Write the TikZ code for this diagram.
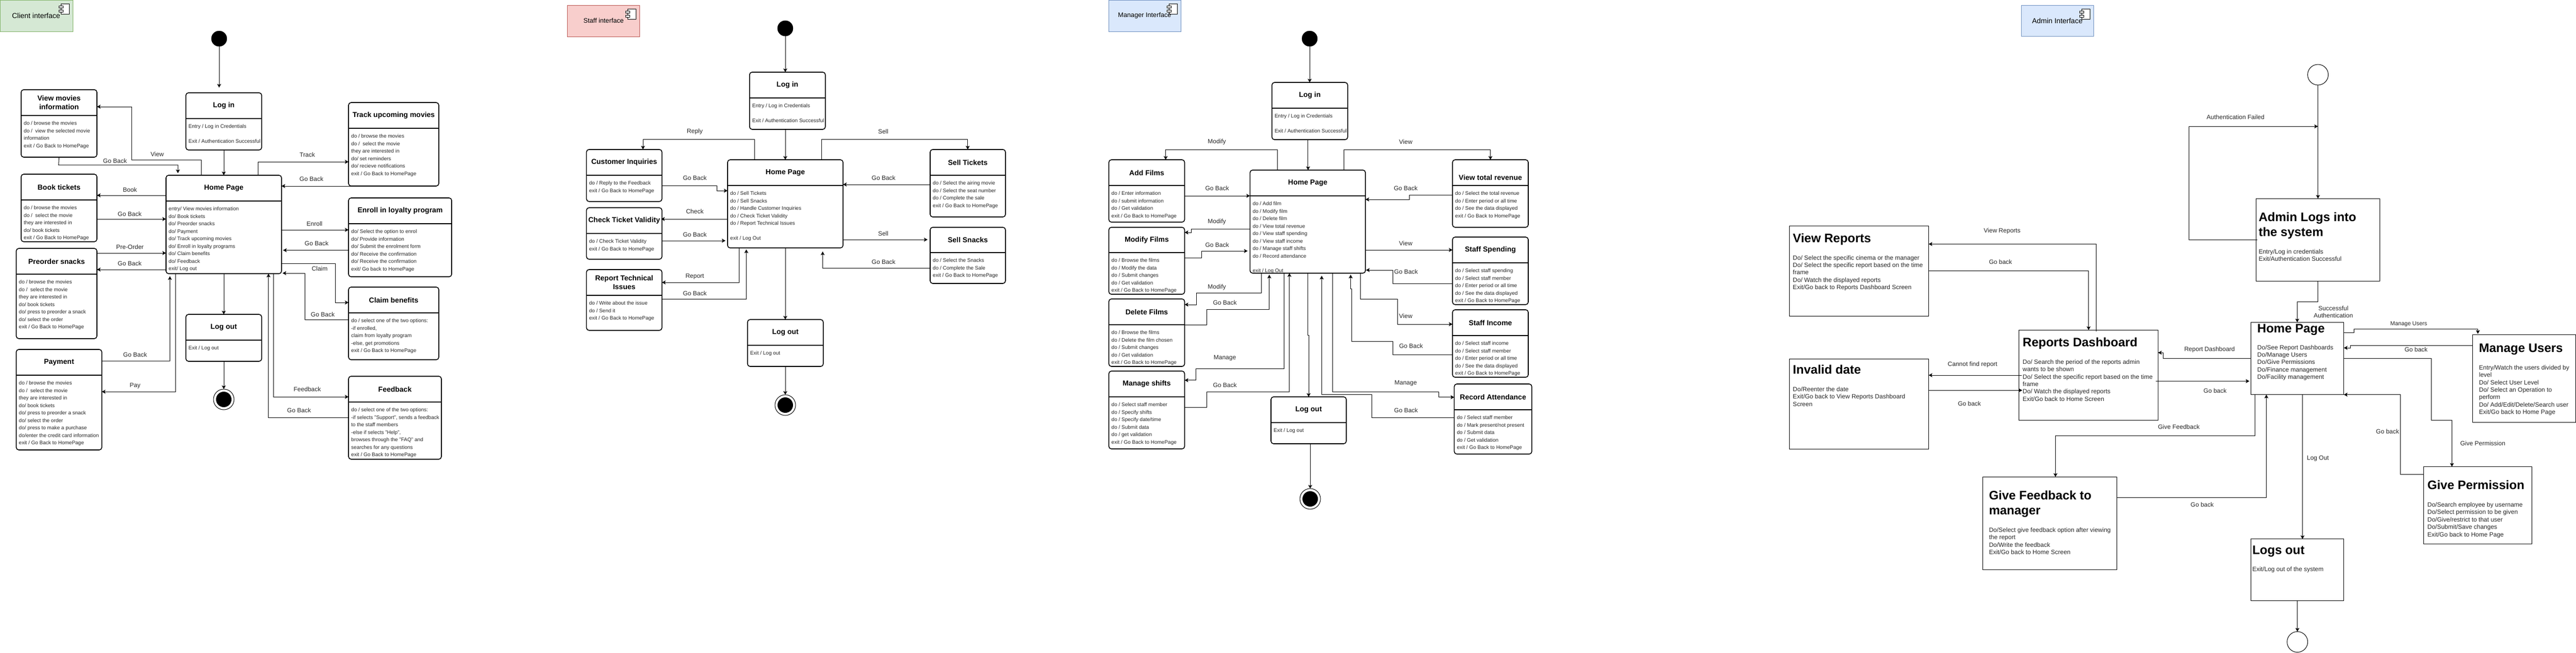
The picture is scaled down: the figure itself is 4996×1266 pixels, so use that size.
\documentclass[tikz,border=0pt]{standalone}
\usepackage{fontspec}
\setmainfont{Liberation Sans}
\usetikzlibrary{arrows.meta,calc}
\definecolor{cgfill}{HTML}{D5E8D4}\definecolor{cgline}{HTML}{82B366}
\definecolor{crfill}{HTML}{F8CECC}\definecolor{crline}{HTML}{B85450}
\definecolor{cbfill}{HTML}{DAE8FC}\definecolor{cbline}{HTML}{6C8EBF}
\tikzset{
  statebody/.style={draw=black,line width=1.6pt,rounded corners=5pt,inner sep=0pt,outer sep=0pt,fill=white},
  hdrline/.style={line width=1.5pt,black},
  statetitle/.style={font=\fontsize{14}{17}\selectfont\bfseries,align=center,inner sep=0pt},
  statetext/.style={font=\fontsize{10}{14.45}\selectfont,align=left,inner sep=0pt,anchor=north west,text=black!85},
  lbl/.style={font=\fontsize{12}{14.4}\selectfont,align=center,inner sep=0pt,text=black!85},
  lblsm/.style={font=\fontsize{11}{14}\selectfont,align=center,inner sep=0pt,text=black!85},
  conn/.style={line width=1pt,black,-{Stealth[length=7pt,width=7.5pt,inset=1.5pt]}},
  iface/.style={line width=1pt,inner sep=0pt,outer sep=0pt,anchor=north west},
  ifacetext/.style={font=\fontsize{14}{16}\selectfont,inner sep=0pt},
  ifacesmall/.style={font=\fontsize{12.7}{15}\selectfont,inner sep=0pt},
  startdot/.style={circle,fill=black,draw=black,minimum size=30pt,inner sep=0pt,outer sep=0pt},
  endouter/.style={circle,draw=black,line width=1pt,fill=white,minimum size=40pt,inner sep=0pt,outer sep=0pt},
  endinner/.style={circle,fill=black,minimum size=30pt,inner sep=0pt},
  opencirc/.style={circle,draw=black,line width=1pt,fill=white,minimum size=40pt,inner sep=0pt,outer sep=0pt},
  plainbox/.style={draw=black,line width=1pt,inner sep=0pt,outer sep=0pt,fill=white,anchor=north west},
  bigtitle/.style={font=\fontsize{24}{29}\selectfont\bfseries,align=left,inner sep=0pt,anchor=north west},
  bigtext/.style={font=\fontsize{12}{14.4}\selectfont,align=left,inner sep=0pt,anchor=north west,text=black!85},
  compmain/.style={draw=black,line width=.9pt,fill=white},
}
\newcounter{labc}
\newcommand\lab[3]{\stepcounter{labc}\node[lbl] (lab\arabic{labc}) at (#1,#2) {#3};}
\newcommand\labsm[3]{\stepcounter{labc}\node[lblsm] (lab\arabic{labc}) at (#1,#2) {#3};}
% [title dy]{name}{x1}{y1}{x2}{y2}{yh}{title}{body}
\newcommand\statebox[9][0]{%
  \pgfmathsetmacro\bw{#5-#3}\pgfmathsetmacro\bh{#6-#4}%
  \node[statebody,minimum width=\bw pt,minimum height=\bh pt,anchor=north west] (#2) at (#3,#4) {};
  \draw[hdrline] (#2.west |- 0,#7) -- (#2.east |- 0,#7);
  \node[statetitle] (#2t) at ({(#3+#5)/2},{(#4+#7)/2+#1}) {#8};
  \node[statetext] (#2b) at ({#3+5},{#7+10.7}) {\rule{0pt}{8pt}#9};
}
\newcommand\plainrect[5]{%
  \pgfmathsetmacro\bw{#4-#2}\pgfmathsetmacro\bh{#5-#3}%
  \node[plainbox,minimum width=\bw pt,minimum height=\bh pt] (#1) at (#2,#3) {};}
% {name}{x}{first line centre y}{text}
\newcommand\ttl[4]{\node[bigtitle] (#1) at (#2,{#3-9.4}) {\rule{0pt}{18pt}#4};}
\newcommand\bdy[4]{\node[bigtext] (#1) at (#2,{#3-4.7}) {\rule{0pt}{9pt}#4};}
% {x0}{y0} top left of the component icon
\newcommand\compicon[2]{%
  \draw[compmain] (#1,#2) rectangle ++(16,20);
  \draw[compmain] ({#1-4},{#2+4}) rectangle ++(8,4);
  \draw[compmain] ({#1-4},{#2+12}) rectangle ++(8,4);}
\begin{document}
\begin{tikzpicture}[x=1pt,y=-1pt]
\useasboundingbox (0,0) rectangle (4996,1266);
\fill[white] (0,0) rectangle (4996,1266);

%% ================= CLIENT
\node[iface,draw=cgline,fill=cgfill,minimum width=141pt,minimum height=61pt] (cif) at (0,0) {};
\compicon{118}{7}
\node[ifacetext] (ciftext) at (70,30) {Client interface};
\node[startdot] (cinit) at (425,75) {};
\statebox{clogin}{360.5}{180}{507.5}{291}{230}{Log in}{Entry / Log in Credentials\\[14.45pt]Exit / Authentication Successful}
\statebox{cvm}{41}{174}{188}{305}{224}{View movies\\information}{do / browse the movies\\do / \ view the selected movie\\information\\exit / Go Back to HomePage}
\statebox{cbook}{41}{338}{188}{469}{388}{Book tickets}{do / browse the movies\\do / \ select the movie\\they are interested in\\do/ book tickets\\exit / Go Back to HomePage}
\statebox{cpre}{31.5}{482}{188}{657}{532}{Preorder snacks}{do / browse the movies\\do / \ select the movie\\they are interested in\\do/ book tickets\\do/ press to preorder a snack\\do/ select the order\\exit / Go Back to HomePage}
\statebox{cpay}{31.5}{678}{197.5}{873}{728}{Payment}{do / browse the movies\\do / \ select the movie\\they are interested in\\do/ book tickets\\do/ press to preorder a snack\\do/ select the order\\do/ press to make a purchase\\do/enter the credit card information\\exit / Go Back to HomePage}
\statebox{chome}{322}{340}{546}{531}{390}{Home Page}{entry/ View movies information\\do/ Book tickets\\do/ Preorder snacks\\do/ Payment\\do/ Track upcoming movies\\do/ Enroll in loyalty programs\\do/ Claim benefits\\do/ Feedback\\exit/ Log out}
\statebox{ctrack}{676}{199}{851}{361}{249}{Track upcoming movies}{do / browse the movies\\do / \ select the movie\\they are interested in\\do/ set reminders\\do/ recieve notifications\\exit / Go Back to HomePage}
\statebox{cenroll}{676}{384}{876}{537}{434}{Enroll in loyalty program}{do/ Select the option to enrol\\do/ Provide information\\do/ Submit the enrolment form\\do/ Receive the confirmation\\do/ Receive the confirmation\\exit/ Go back to HomePage}
\statebox{cclaim}{676}{557}{851}{698}{607}{Claim benefits}{do / select one of the two options:\\-if enrolled,\\claim from loyalty program\\-else, get promotions\\exit / Go Back to HomePage}
\statebox{cfeed}{676}{730}{856}{891}{780}{Feedback}{do / select one of the two options:\\-if selects "Support", sends a feedback\\to the staff members\\-else if selects "Help",\\browses through the "FAQ" and\\searches for any questions\\exit / Go Back to HomePage}
\statebox{clogout}{360.5}{610}{507.5}{701}{660}{Log out}{Exit / Log out}
\node[endouter] (cend) at (434,775) {};
\node[endinner] (cendi) at (cend) {};

\draw[conn,shorten >=10pt] (cinit.south) -- (clogin.north -| cinit.south);
\draw[conn] (clogin.south) -- (chome.north -| clogin.south);
\draw[conn] (chome.north -| 390.4,0) -- (390.4,310) -- (255,310) -- (255,207) -- (cvm.east |- 0,207);
\draw[conn,shorten >=4pt] (cvm.south) -- (113.7,320) -- (345,320) -- (chome.north -| 345,0);
\draw[conn] (chome.north -| 500.6,0) -- (500.6,314) -- (ctrack.west |- 500.6,314);
\draw[conn] (ctrack.south) -- (chome.east |- ctrack.south);
\draw[conn] (chome.west |- 0,379) -- (cbook.east |- 0,379);
\draw[conn] (cbook.east |- 0,425) -- (chome.west |- 0,425);
\draw[conn] (cpre.east |- 0,491) -- (chome.west |- 0,491);
\draw[conn] (chome.west |- 0,523) -- (cpre.east |- 0,523);
\draw[conn,shorten >=5pt] (cpay.east |- 0,700) -- (329.5,700) -- (chome.south -| 329.5,0);
\draw[conn] (chome.south -| 340.4,0) -- (340.4,760) -- (cpay.east |- 0,760);
\draw[conn] (chome.south -| clogout.north) -- (clogout.north);
\draw[conn] (clogout.south) -- (cend.north);
\draw[conn] (chome.east |- 0,446) -- (cenroll.west |- 0,446);
\draw[conn,shorten >=3pt] (cenroll.west |- 0,485.5) -- (chome.east |- 0,485.5);
\draw[conn] (chome.east |- 0,511) -- (650,511) -- (650,587) -- (cclaim.west |- 0,587);
\draw[conn,shorten >=2pt] (cclaim.west |- 0,620) -- (591,620) -- (591,530) -- (chome.east |- 0,530);
\draw[conn] (chome.south -| 530,0) -- (530,770) -- (cfeed.west |- 0,770);
\draw[conn] (cfeed.west |- 0,810) -- (520.7,810) -- (chome.south -| 520.7,0);

\lab{305}{299}{View}\lab{223}{312}{Go Back}\lab{596}{300}{Track}\lab{604}{347}{Go Back}
\lab{252}{368}{Book}\lab{251.5}{415}{Go Back}\lab{252}{479}{Pre-Order}\lab{251.5}{511}{Go Back}
\lab{262}{688}{Go Back}\lab{262}{749}{Pay}\lab{610}{434}{Enroll}\lab{614}{472}{Go Back}
\lab{620}{521}{Claim}\lab{626}{610}{Go Back}\lab{596}{755}{Feedback}\lab{580}{796}{Go Back}

%% ================= STAFF
\node[iface,draw=crline,fill=crfill,minimum width=140pt,minimum height=61pt] (sif) at (1100.7,10) {};
\compicon{1217.8}{17}
\node[ifacesmall] (siftext) at (1170.7,40) {Staff interface};
\node[startdot] (sinit) at (1523,55) {};
\statebox{slogin}{1453.7}{140}{1600.7}{251}{190}{Log in}{Entry / Log in Credentials\\[14.45pt]Exit / Authentication Successful}
\statebox{shome}{1411}{310}{1635}{481}{360}{Home Page}{do / Sell Tickets\\do / Sell Snacks\\do / Handle Customer Inquiries\\do / Check Ticket Validity\\do / Report Technical Issues\\[14.45pt]exit / Log Out}
\statebox{scust}{1137.4}{290}{1283.8}{391}{340}{Customer Inquiries}{do / Reply to the Feedback\\exit / Go Back to HomePage}
\statebox{scheck}{1137.4}{403}{1283.8}{503}{453}{Check Ticket Validity}{do / Check Ticket Validity\\exit / Go Back to HomePage}
\statebox{sreport}{1137.4}{523}{1283.8}{641}{573}{Report Technical\\Issues}{do / Write about the issue\\do / Send it\\exit / Go Back to HomePage}
\statebox{ssellt}{1804}{290}{1950}{421}{340}{Sell Tickets}{do / Select the airing movie\\do / Select the seat number\\do / Complete the sale\\exit / Go Back to HomePage}
\statebox{ssells}{1804}{441}{1950}{550}{490}{Sell Snacks}{do / Select the Snacks\\do / Complete the Sale\\exit / Go Back to HomePage}
\statebox{slogout}{1449.7}{620}{1596.7}{711}{670}{Log out}{Exit / Log out}
\node[endouter] (send) at (1523,786) {};
\node[endinner] (sendi) at (send) {};

\draw[conn] (sinit.south) -- (slogin.north -| sinit.south);
\draw[conn] (slogin.south -| sinit.south) -- (shome.north -| sinit.south);
\draw[conn] (shome.south -| send.north) -- (slogout.north -| send.north);
\draw[conn] (slogout.south -| send.north) -- (send.north);
\draw[conn] (shome.north -| 1463.5,0) -- (1463.5,270) -- (1247,270) -- (scust.north -| 1247,0);
\draw[conn] (shome.north -| 1593.8,0) -- (1593.8,270) -- (1876.8,270) -- (ssellt.north -| 1876.8,0);
\draw[conn] (scust.east |- 0,360) -- (1390.6,360) -- (1390.6,370) -- (shome.west |- 0,370);
\draw[conn] (ssellt.west |- 0,358) -- (shome.east |- 0,358);
\draw[conn,shorten >=-1.7pt] (shome.west |- 0,425) -- (scheck.east |- 0,425);
\draw[conn,shorten >=4pt] (scheck.east |- 0,467) -- (shome.west |- 0,467);
\draw[conn,shorten >=5pt] (shome.east |- 0,465) -- (ssells.west |- 0,465);
\draw[conn,shorten >=7pt] (ssells.west |- 0,520) -- (1595.5,520) -- (shome.south -| 1595.5,0);
\draw[conn] (shome.south -| 1433.6,0) -- (1433.6,548) -- (sreport.east |- 0,548);
\draw[conn,shorten >=3pt] (sreport.east |- 0,580) -- (1447.4,580) -- (shome.south -| 1447.4,0);

\lab{1347.5}{255}{Reply}\lab{1713}{255}{Sell}\lab{1347.5}{345}{Go Back}\lab{1713.7}{345}{Go Back}
\lab{1347.5}{410}{Check}\lab{1347.5}{455}{Go Back}\lab{1713}{453}{Sell}\lab{1713.7}{508}{Go Back}
\lab{1347.5}{537}{Report}\lab{1347.5}{569}{Go Back}

%% ================= MANAGER
\node[iface,draw=cbline,fill=cbfill,minimum width=140pt,minimum height=61pt] (mif) at (2150.5,0) {};
\compicon{2267.6}{7}
\node[ifacesmall] (miftext) at (2220,30) {Manager Interface};
\node[startdot] (minit) at (2540,75) {};
\statebox{mlogin}{2466.8}{160}{2613.8}{271}{210}{Log in}{Entry / Log in Credentials\\[14.45pt]Exit / Authentication Successful}
\statebox{mhome}{2424.3}{330}{2648.2}{530}{380}{Home Page}{do / Add film\\do / Modify film\\do / Delete film\\do / View total revenue\\do / View staff spending\\do / View staff income\\do / Manage staff shifts\\do / Record attendance\\[14.45pt]exit / Log Out}
\statebox{madd}{2150.5}{310}{2297.5}{431}{360}{Add Films}{do / Enter information\\do / submit information\\do / Get validation\\exit / Go Back to HomePage}
\statebox{mmod}{2150.5}{441}{2297.5}{571}{490}{Modify Films}{do / Browse the films\\do / Modify the data\\do / Submit changes\\do / Get validation\\exit / Go Back to HomePage}
\statebox{mdel}{2150.5}{580}{2297.5}{711}{630}{Delete Films}{do / Browse the films\\do / Delete the film chosen\\do / Submit changes\\do / Get validation\\exit / Go Back to HomePage}
\statebox{mshift}{2150.5}{720}{2297.5}{871}{770}{Manage shifts}{do / Select staff member\\do / Specify shifts\\do / Specify date/time\\do / Submit data\\do / get validation\\exit / Go Back to HomePage}
\statebox[9]{mrev}{2817}{310}{2964}{441}{360}{View total revenue}{do / Select the total revenue\\do / Enter period or all time\\do / See the data displayed\\exit / Go Back to HomePage}
\statebox{mspend}{2817}{460}{2964}{591}{510}{Staff Spending}{do / Select staff spending\\do / Select staff member\\do / Enter period or all time\\do / See the data displayed\\exit / Go Back to HomePage}
\statebox{minc}{2817}{601}{2964}{732}{651}{Staff Income}{do / Select staff income\\do / Select staff member\\do / Enter period or all time\\do / See the data displayed\\exit / Go Back to HomePage}
\statebox{matt}{2820.4}{745}{2970.8}{881}{795}{Record Attendance}{do / Select staff member\\do / Mark present/not present\\do / Submit data\\do / Get validation\\exit / Go Back to HomePage}
\statebox{mlogout}{2465}{770}{2611}{861}{820}{Log out}{Exit / Log out}
\node[endouter] (mend) at (2541,968) {};
\node[endinner] (mendi) at (mend) {};

\draw[conn] (minit.south) -- (mlogin.north -| minit.south);
\draw[conn] (mlogin.south -| 2536.9,0) -- (mhome.north -| 2536.9,0);
\draw[conn] (mhome.south -| 2536.9,0) -- (2536.9,650) -- (2538,650) -- (mlogout.north);
\draw[conn] (mlogout.south -| mend.north) -- (mend.north);
\draw[conn] (mhome.north -| 2477,0) -- (2477,290) -- (2260.7,290) -- (madd.north -| 2260.7,0);
\draw[conn] (mhome.north -| 2606.9,0) -- (2606.9,290) -- (2890.5,290) -- (mrev.north -| 2890.5,0);
\draw[conn] (madd.east |- 0,380) -- (mhome.west |- 0,380);
\draw[conn] (mrev.west |- 0,378) -- (2733,378) -- (2733,387) -- (mhome.east |- 0,387);
\draw[conn] (mhome.west |- 0,444) -- (2310.7,444) -- (2310.7,451) -- (mmod.east |- 0,451);
\draw[conn,shorten >=4.6pt] (mmod.east |- 0,500) -- (2330.8,500) -- (2330.8,487) -- (mhome.west |- 0,487);
\draw[conn] (mhome.south -| 2446.7,0) -- (2446.7,568) -- (2320.4,568) -- (2320.4,591) -- (mdel.east |- 0,591);
\draw[conn,shorten >=3pt] (mdel.east |- 0,630) -- (2340.5,630) -- (2340.5,600) -- (2461.7,600) -- (mhome.south -| 2461.7,0);
\draw[conn] (mhome.south -| 2490.4,0) -- (2490.4,715) -- (2319.9,715) -- (2319.9,737.7) -- (mshift.east |- 0,737.7);
\draw[conn] (mshift.east |- 0,790) -- (2340.5,790) -- (2340.5,760) -- (2500.7,760) -- (mhome.south -| 2500.7,0);
\draw[conn,shorten >=5pt] (matt.west |- 0,810) -- (2660.9,810) -- (2660.9,765.7) -- (2563.3,765.7) -- (mhome.south -| 2563.3,0);
\draw[conn] (mhome.south -| 2584.5,0) -- (2584.5,760) -- (2790.6,760) -- (2790.6,770.7) -- (matt.west |- 0,770.7);
\draw[conn] (mhome.east |- 0,485) -- (mspend.west |- 0,485);
\draw[conn,shorten >=1pt] (mspend.west |- 0,550) -- (2701,550) -- (2701,524) -- (mhome.east |- 0,524);
\draw[conn] (mhome.south -| 2638.5,0) -- (2638.5,580) -- (2710.8,580) -- (2710.8,629) -- (minc.west |- 0,629);
\draw[conn,shorten >=3pt] (minc.west |- 0,688) -- (2701,688) -- (2701,662) -- (2621.8,662) -- (2621.8,560) -- (2619.5,560) -- (mhome.south -| 2619.5,0);

\lab{2360}{275}{Modify}\lab{2726.3}{275}{View}\lab{2360.6}{365}{Go Back}\lab{2726.3}{365}{Go Back}
\lab{2360}{430}{Modify}\lab{2360.6}{475}{Go Back}\lab{2360}{557}{Modify}\lab{2375.5}{587}{Go Back}
\lab{2375.5}{695}{Manage}\lab{2375.5}{747}{Go Back}\lab{2726.9}{795.7}{Go Back}\lab{2726.3}{743.7}{Manage}
\lab{2726.3}{472.7}{View}\lab{2726.9}{527.7}{Go Back}\lab{2726.3}{613.7}{View}\lab{2736.6}{671.7}{Go Back}

%% ================= ADMIN
\node[iface,draw=cbline,fill=cbfill,minimum width=139.8pt,minimum height=60.2pt] (aif) at (3920.6,10.5) {};
\compicon{4037}{17.7}
\node[ifacetext] (aiftext) at (3990,40) {Admin Interface};
\node[opencirc] (ainit) at (4495.5,145) {};
\node[opencirc] (aend) at (4455.6,1245.5) {};

\plainrect{alog}{4375.5}{385.3}{4615.5}{545.3}
\ttl{alogt}{4380.3}{420.7}{Admin Logs into\\the system}
\bdy{alogb}{4380.3}{487.7}{Entry/Log in credentials\\Exit/Authentication Successful}
\plainrect{avr}{3470.6}{438.6}{3740.5}{613.6}
\ttl{avrt}{3477}{461.7}{View Reports}
\bdy{avrb}{3477}{499.6}{Do/ Select the specific cinema or the manager\\Do/ Select the specific report based on the time\\frame\\Do/ Watch the displayed reports\\Exit/Go back to Reports Dashboard Screen}
\plainrect{aid}{3470.6}{696.3}{3740.5}{871.3}
\ttl{aidt}{3477}{717}{Invalid date}
\bdy{aidb}{3477}{754.7}{Do/Reenter the date\\Exit/Go back to View Reports Dashboard\\Screen}
\plainrect{arep}{3915.5}{640.3}{4185.4}{815.3}
\ttl{arept}{3922.7}{664}{Reports Dashboard}
\bdy{arepb}{3922.7}{701.7}{Do/ Search the period of the reports admin\\wants to be shown\\Do/ Select the specific report based on the time\\frame\\Do/ Watch the displayed reports\\Exit/Go back to Home Screen}
\plainrect{afb}{3845.6}{925.3}{4105.3}{1105.3}
\ttl{afbt}{3857.3}{961}{Give Feedback to\\manager}
\bdy{afbb}{3857.3}{1028}{Do/Select give feedback option after viewing\\the report\\Do/Write the feedback\\Exit/Go back to Home Screen}
\plainrect{ahome}{4365.5}{625.4}{4545.7}{765.7}
\ttl{ahomet}{4377.7}{636.5}{Home Page}
\bdy{ahomeb}{4377.7}{673.5}{Do/See Report Dashboards\\Do/Manage Users\\Do/Give Permissions\\Do/Finance management\\Do/Facility management}
\plainrect{amu}{4795.4}{649.7}{4995.4}{819.9}
\ttl{amut}{4807.6}{674.6}{Manage Users}
\bdy{amub}{4807.6}{712.7}{Entry/Watch the users divided by\\level\\Do/ Select User Level\\Do/ Select an Operation to\\perform\\Do/ Add/Edit/Delete/Search user\\Exit/Go back to Home Page}
\plainrect{agp}{4700.5}{905.5}{4910.7}{1055.8}
\ttl{agpt}{4707.6}{940.9}{Give Permission}
\bdy{agpb}{4707.6}{979}{Do/Search employee by username\\Do/Select permission to be given\\Do/Give/restrict to that user\\Do/Submit/Save changes\\Exit/Go back to Home Page}
\plainrect{alo}{4365.5}{1045.9}{4545.7}{1165.7}
\ttl{alot}{4368}{1066.3}{Logs out}
\bdy{alob}{4368}{1103.9}{Exit/Log out of the system}

\draw[conn] (ainit.south) -- (alog.north -| ainit.south);
\draw[conn,shorten <=-2.7pt] (alog.west |- 0,465.3) -- (4245.3,465.3) -- (4245.3,245.3) -- (ainit.south |- 0,245.3);
\draw[conn] (alog.south -| 4495.4,0) -- (4495.4,585) -- (4455.3,585) -- (ahome.north -| 4455.3,0);
\draw[conn] (ahome.south -| 4465.5,0) -- (alo.north -| 4465.5,0);
\draw[conn] (alo.south -| aend.north) -- (aend.north);
\draw[conn,shorten >=2pt] (ahome.east |- 0,645.3) -- (4565.5,645.3) -- (4565.5,638.7) -- (4805.6,638.7) -- (amu.north -| 4805.6,0);
\draw[conn] (amu.west |- 0,670.7) -- (4558.4,670.7) -- (4558.4,675) -- (ahome.east |- 0,675);
\draw[conn] (ahome.east |- 0,695.6) -- (4715.2,695.6) -- (4715.2,815.5) -- (4755.3,815.5) -- (agp.north -| 4755.3,0);
\draw[conn] (agp.west |- 0,920.4) -- (4655.3,920.4) -- (4655.3,765.7) -- (ahome.east |- 0,765.7);
\draw[conn] (ahome.west |- 0,695.6) -- (4195,695.6) -- (4195,684.3) -- (arep.east |- 0,684.3);
\draw[conn,shorten <=-4.6pt,shorten >=3pt] (arep.east |- 0,739.5) -- (ahome.west |- 0,739.5);
\draw[conn] (ahome.south -| 4373.6,0) -- (4373.6,845.6) -- (3986.4,845.6) -- (afb.north -| 3986.4,0);
\draw[conn] (afb.east |- 0,965.5) -- (4395.4,965.5) -- (ahome.south -| 4395.4,0);
\draw[conn,shorten <=-3pt] (arep.north -| 4065.5,0) -- (4065.5,473.5) -- (avr.east |- 0,473.5);
\draw[conn] (avr.east |- 0,525.3) -- (4050.7,525.3) -- (arep.north -| 4050.7,0);
\draw[conn,shorten <=-5.5pt] (arep.west |- 0,728) -- (aid.east |- 0,728);
\draw[conn,shorten >=-6.5pt] (aid.east |- 0,757.3) -- (arep.west |- 0,757.3);

\lab{4335.7}{227.7}{Authentication Failed}
\lab{4525.4}{605}{Successful\\Authentication}
\labsm{4671.6}{629.3}{Manage Users}
\lab{4685.8}{677.9}{Go back}
\lab{4815.2}{859.7}{Give Permission}
\lab{4630.5}{837.6}{Go back}
\lab{4495.4}{889.5}{Log Out}
\lab{4285.3}{677.9}{Report Dashboard}
\lab{4296}{758}{Go back}
\lab{4225.7}{827.7}{Give Feedback}
\lab{4271}{979.6}{Go back}
\lab{3882.9}{448.7}{View Reports}
\lab{3879.8}{508.4}{Go back}
\lab{3825.7}{707.7}{Cannot find report}
\lab{3819.6}{783.7}{Go back}
\end{tikzpicture}
\end{document}
